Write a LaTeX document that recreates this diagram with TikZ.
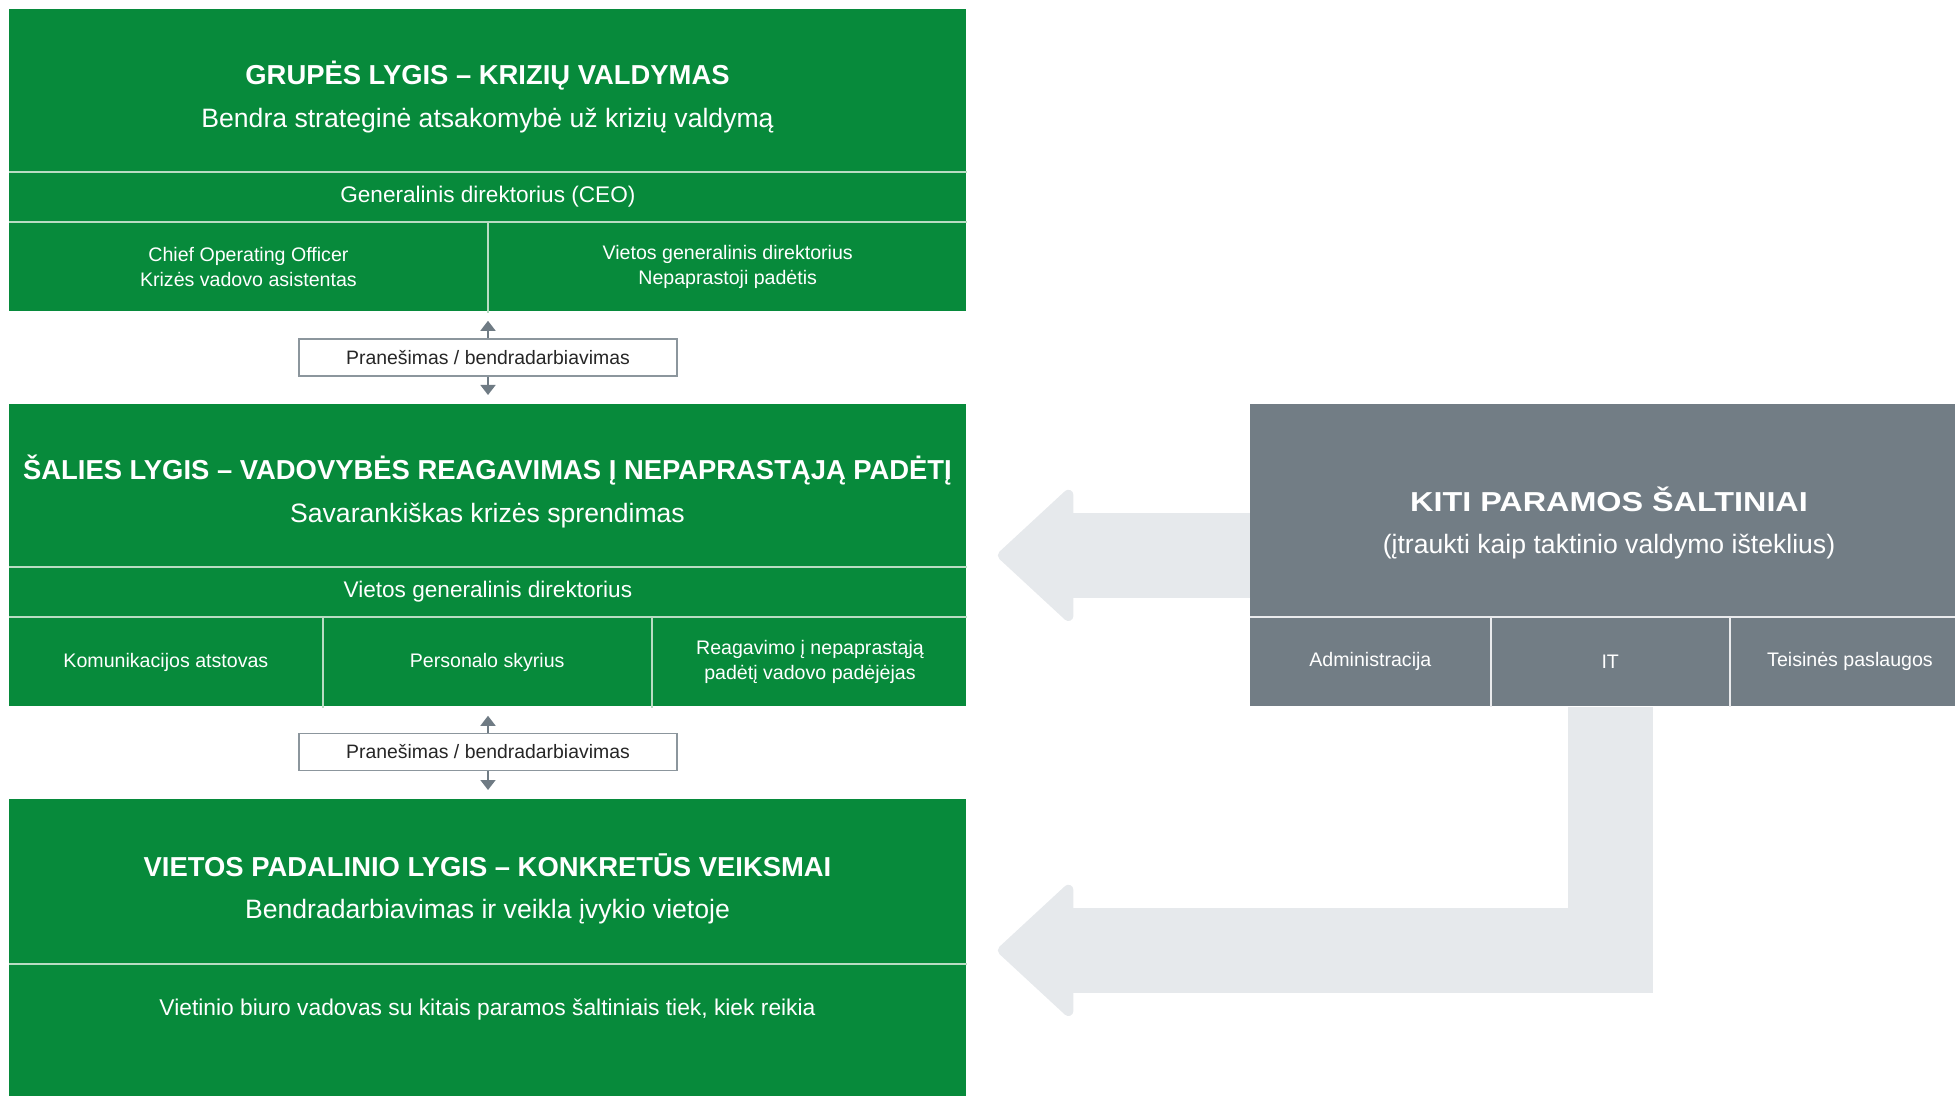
\documentclass[tikz,border=0pt]{standalone}
\usepackage{fontspec}
\setmainfont{Liberation Sans}
\newfontfamily\widebold[FakeStretch=1.18]{Liberation Sans}
\usepackage{xcolor}
\usepackage{tikz}
\usetikzlibrary{arrows.meta, positioning}
\definecolor{levelgreen}{HTML}{078A3B}
\definecolor{sepgreen}{HTML}{B9DCC3}
\definecolor{supportgray}{HTML}{727D85}
\definecolor{flowgray}{HTML}{E6E9EC}
\definecolor{linkgray}{HTML}{6F7B84}
\definecolor{framegray}{HTML}{8C969D}
\tikzstyle{level} = [rectangle, anchor=north west, inner sep=0pt, fill=levelgreen, minimum width=478.5pt, minimum height=151pt]
\tikzstyle{support} = [rectangle, anchor=north west, inner sep=0pt, fill=supportgray, minimum width=359pt, minimum height=151pt]
\tikzstyle{title} = [anchor=base, inner sep=0pt, text=white, font=\bfseries\fontsize{13.7}{16}\selectfont]
\tikzstyle{subtitle} = [anchor=base, inner sep=0pt, text=white, font=\fontsize{13.3}{16}\selectfont]
\tikzstyle{row} = [rectangle, anchor=north west, inner sep=0pt, text=white, minimum width=478.5pt, minimum height=24.5pt, font=\fontsize{11.3}{14}\selectfont]
\tikzstyle{cell} = [rectangle, anchor=north west, inner sep=0pt, text=white, align=center, minimum height=45pt, font=\fontsize{9.8}{12.5}\selectfont]
\tikzstyle{report} = [rectangle, draw=framegray, line width=0.75pt, fill=white, minimum width=189pt, minimum height=18.5pt, inner sep=0pt, text=black!85, font=\fontsize{9.7}{12}\selectfont]
\tikzstyle{sepline} = [draw=sepgreen, line width=1pt]
\tikzstyle{sepwhite} = [draw=white!85!supportgray, line width=1pt]
\tikzstyle{arrow} = [draw=linkgray, line width=0.8pt, -{Triangle[width=7.5pt,length=5pt]}, shorten >=4.5pt]
\tikzstyle{bigarrow} = [draw=flowgray, line width=42.5pt, line join=miter, -{Triangle[width=71pt,length=39pt,line width=5pt,round]}]

\begin{document}
\begin{tikzpicture}[x=0.5pt, y=-0.5pt]
	\useasboundingbox (0,0) rectangle (1955,1096);
	
	% group level
	\node (group) [level] at (9,9) {};
	\node (grouptitle) [title] at (487.5,85) {GRUPĖS LYGIS – KRIZIŲ VALDYMAS};
	\node (groupsub) [subtitle] at (487.5,128) {Bendra strateginė atsakomybė už krizių valdymą};
	\node (ceo) [row] at (9,172) {Generalinis direktorius (CEO)};
	\node (coo) [cell, minimum width=239pt] at (ceo.south west) {Chief Operating Officer\\Krizės vadovo asistentas};
	\node (deputy) [cell, minimum width=239.5pt] at (coo.north east) {Vietos generalinis direktorius\\Nepaprastoji padėtis};
	\draw [sepline] (ceo.north west) -- (ceo.north east);
	\draw [sepline] (ceo.south west) -- (ceo.south east);
	\draw [sepline] (coo.north east) -- (coo.south east);
	
	\node (report1) [report] at (488,357.5) {Pranešimas / bendradarbiavimas};
	
	% country level
	\node (country) [level] at (9,404) {};
	\node (countrytitle) [title] at (487.5,480) {ŠALIES LYGIS – VADOVYBĖS REAGAVIMAS Į NEPAPRASTĄJĄ PADĖTĮ};
	\node (countrysub) [subtitle] at (487.5,523) {Savarankiškas krizės sprendimas};
	\node (director) [row] at (9,567) {Vietos generalinis direktorius};
	\node (comms) [cell, minimum width=156.5pt] at (director.south west) {Komunikacijos atstovas};
	\node (hr) [cell, minimum width=164pt] at (comms.north east) {Personalo skyrius};
	\node (assistant) [cell, minimum width=158pt] at (hr.north east) {Reagavimo į nepaprastąją\\padėtį vadovo padėjėjas};
	\draw [sepline] (director.north west) -- (director.north east);
	\draw [sepline] (director.south west) -- (director.south east);
	\draw [sepline] (comms.north east) -- (comms.south east);
	\draw [sepline] (hr.north east) -- (hr.south east);
	
	\node (report2) [report] at (488,752) {Pranešimas / bendradarbiavimas};
	
	% local level
	\node (local) [level] at (9,799) {};
	\node (localtitle) [title] at (487.5,876) {VIETOS PADALINIO LYGIS – KONKRETŪS VEIKSMAI};
	\node (localsub) [subtitle] at (487.5,918.5) {Bendradarbiavimas ir veikla įvykio vietoje};
	\coordinate (localsplit) at (9,964);
	\draw [sepline] (localsplit) -- (localsplit -| local.east);
	\node (localbody) [anchor=base, text=white, font=\fontsize{11.4}{14}\selectfont] at (487.5,1015) {Vietinio biuro vadovas su kitais paramos šaltiniais tiek, kiek reikia};
	
	% other support
	\node (support) [support] at (1250,404) {};
	\node (supporttitle) [title, font=\widebold\bfseries\fontsize{13.7}{16}\selectfont] at (1609,512) {KITI PARAMOS ŠALTINIAI};
	\node (supportsub) [subtitle] at (1609,553) {(įtraukti kaip taktinio valdymo išteklius)};
	\node (admin) [cell, minimum width=120pt, minimum height=44.5pt] at (1250,617) {Administracija};
	\node (it) [cell, minimum width=119pt, minimum height=44.5pt] at (admin.north east) {IT};
	\node (legal) [cell, minimum width=120pt, minimum height=44.5pt] at (it.north east) {Teisinės paslaugos};
	\draw [sepwhite] (admin.north west) -- (legal.north east);
	\draw [sepwhite] (admin.north east) -- (admin.south east);
	\draw [sepwhite] (it.north east) -- (it.south east);
	
	
	\draw [arrow] (report1.north) -- (report1.north |- group.south);
	\draw [arrow] (report1.south) -- (report1.south |- country.north);
	\draw [arrow] (report2.north) -- (report2.north |- country.south);
	\draw [arrow] (report2.south) -- (report2.south |- local.north);
	\draw [bigarrow] (support.west) -- ([xshift=15.5pt]country.east);
	\draw [bigarrow] (it.south) |- ([xshift=15.5pt]local.east);
	
\end{tikzpicture}
\end{document}
